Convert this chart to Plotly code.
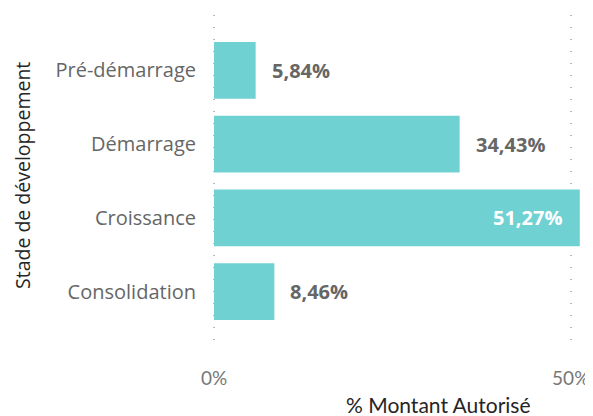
import plotly.graph_objects as go

categories = ["Pré-démarrage", "Démarrage", "Croissance", "Consolidation"]
values = [5.84, 34.43, 51.27, 8.46]
labels = ["5,84%", "34,43%", "51,27%", "8,46%"]
tick_vals = [0, 50]
tick_text = ["0%", "50%"]

BAR = "#6fd1d2"
OFF = 8  # page body margin
W, H = 585, 408
L, R, T, B = 212 - OFF, 8, 15 - OFF, 71
PW, PH = W - L - R, H - T - B


def px_x(px):
    return (px - OFF - L) / PW


def px_y(py):
    return 1 - (py - OFF - T) / PH


fig = go.Figure()
fig.add_trace(go.Bar(
    x=values, y=categories, orientation="h",
    marker=dict(color=BAR, line=dict(width=0)),
    width=0.77, hoverinfo="skip",
))

for c, v, t in zip(categories, values, labels):
    inside = v > 45
    fig.add_annotation(
        x=v, y=c, xref="x", yref="y", text="<b>" + t + "</b>", showarrow=False,
        xanchor="right" if inside else "left",
        xshift=-16 if inside else 14,
        font=dict(family="Open Sans", size=20, color="white" if inside else "#666666"),
    )

fig.add_annotation(
    x=px_x(438), y=px_y(404), xref="paper", yref="paper", text="% Montant Autorisé",
    showarrow=False, xanchor="center", yanchor="middle",
    font=dict(family="Lato", size=21, color="#252525"),
)
fig.add_annotation(
    x=px_x(23), y=px_y(176), xref="paper", yref="paper", text="Stade de développement",
    showarrow=False, xanchor="center", yanchor="middle", textangle=-90,
    font=dict(family="Open Sans", size=19.5, color="#252525"),
)

fig.update_layout(
    width=W, height=H,
    margin=dict(l=L, r=R, t=T, b=B, pad=0),
    paper_bgcolor="white", plot_bgcolor="white",
    showlegend=False,
    xaxis=dict(
        range=[-0.28, 52], tickvals=tick_vals, ticktext=tick_text,
        showgrid=True, gridcolor="#b8b8b8", griddash="1px,11px", gridwidth=1.5,
        zeroline=False, showline=False, ticks="", automargin=False,
        tickfont=dict(family="Lato", size=19, color="#777777"),
        ticklabelstandoff=20,
    ),
    yaxis=dict(
        range=[3.726, -0.753], showgrid=False, zeroline=False, showline=False,
        ticks="", ticklabelstandoff=15, automargin=False,
        tickfont=dict(family="Open Sans", size=20, color="#666666"),
    ),
)

fig.write_html("out.html")
